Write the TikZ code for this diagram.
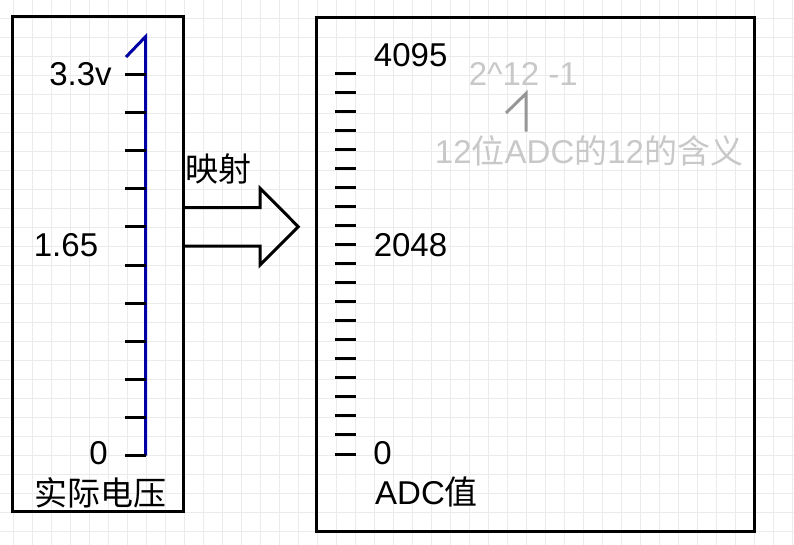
\documentclass[tikz,border=0pt]{standalone}
\usepackage{fontspec}
\setmainfont{Liberation Sans}
\newfontfamily\cjk{Noto Sans CJK SC}
\definecolor{gridc}{RGB}{235,235,235}
\definecolor{scaleblue}{RGB}{0,0,165}
\definecolor{notetext}{RGB}{200,200,200}
\definecolor{noteline}{RGB}{150,150,150}
\begin{document}
\begin{tikzpicture}[x=1pt,y=-1pt,
  gridline/.style={draw=gridc,line width=1pt},
  panel/.style={draw=black,line width=3pt,rectangle,inner sep=0pt},
  lbl/.style={inner sep=0pt,font=\fontsize{33}{36}\selectfont,text=black},
  note/.style={inner sep=0pt,font=\fontsize{33}{36}\selectfont,text=notetext},
  tickline/.style={draw=black,line width=3pt},
  scaleline/.style={draw=scaleblue,line width=3pt},
  noteconn/.style={draw=noteline,line width=3pt},
  bigarrow/.style={draw=black,line width=3pt,line join=miter}]
\useasboundingbox (0,0) rectangle (794,545);
\fill[white] (0,0) rectangle (794,545);
% background grid
\foreach \i in {0,...,41} \draw[gridline] (13.3+19*\i,0) -- (13.3+19*\i,545);
\foreach \j in {0,...,28} \draw[gridline] (0,-0.3+19*\j) -- (794,-0.3+19*\j);
% panels
\node[panel,minimum width=171.3pt,minimum height=494.3pt] (L) at (97.85,263.85) {};
\node[panel,minimum width=438.3pt,minimum height=513.8pt] (R) at (535.15,274.6) {};
% left scale
\coordinate (lb) at (145.7,455.5);
\coordinate (lt) at (145.7,36.5);
\draw[scaleline] (lb) -- (lt) -- ++(-19.7,20.5);
\foreach \k in {0,...,10} \draw[tickline] (125,75+38*\k) -- (145.7,75+38*\k);
\node[lbl] (v33) at (80.5,74) {3.3v};
\node[lbl] (v165) at (66,245) {1.65};
\node[lbl] (v0) at (98.5,453.5) {0};
\node[lbl] (vt) at (100,492.7) {\cjk 实际电压};
% mapping arrow
\node[lbl] (ys) at (218,169) {\cjk 映射};
\draw[bigarrow] (L.east |- 0,207.7) -- (260,207.7) -- (260,188.3) -- (298.3,226.7)
  -- (260,265) -- (260,246) -- (L.east |- 0,246);
% right scale
\foreach \k in {0,...,20} \draw[tickline] (335,73.3+19.035*\k) -- (356,73.3+19.035*\k);
\node[lbl] (a4095) at (410.7,55) {4095};
\node[lbl] (a2048) at (410.5,244.7) {2048};
\node[lbl] (a0) at (382.5,453.3) {0};
\node[lbl] (at) at (426.5,492) {ADC{\cjk 值}};
% note
\node[note] (n1) at (523.3,73.5) {2\textasciicircum12 -1};
\node[note] (n2) at (589,150.8) {12{\cjk 位}ADC{\cjk 的}12{\cjk 的含义}};
\coordinate (gb) at (526,131.7);
\coordinate (gt) at (526,93.5);
\draw[noteconn] (gb) -- (gt) -- ++(-20,19.5);
\end{tikzpicture}
\end{document}
